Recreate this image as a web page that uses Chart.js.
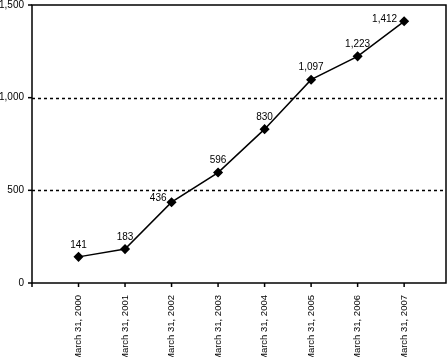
<!DOCTYPE html>
<html><head><meta charset="utf-8">
<script src="https://cdn.jsdelivr.net/npm/chart.js@4/dist/chart.umd.min.js"></script>
<style>html,body{margin:0;padding:0;background:#fff}#wrap{width:447px;height:357px}</style>
</head><body><div id="wrap"><canvas id="c" width="447" height="357"></canvas></div>
<script>
const categories = ["March 31, 2000","March 31, 2001","March 31, 2002","March 31, 2003","March 31, 2004","March 31, 2005","March 31, 2006","March 31, 2007"];
const values = [141,183,436,596,830,1097,1223,1412];
const yTicks = [0,500,1000,1500];

const FONT = "'Liberation Sans', Arial, sans-serif";
const fmt = v => v.toLocaleString('en-US');

const framePlugin = {
  id: 'frame',
  beforeDatasetsDraw(chart) {
    const {ctx, chartArea: a, scales: {x, y}} = chart;
    ctx.save();
    ctx.strokeStyle = '#000';
    ctx.lineWidth = 1.5;
    ctx.setLineDash([3,3]);
    yTicks.forEach(t => {
      if (t === 0 || t === 1500) return;
      const py = Math.round(y.getPixelForValue(t)) + 0.5;
      ctx.beginPath(); ctx.moveTo(a.left, py); ctx.lineTo(a.right, py); ctx.stroke();
    });
    ctx.setLineDash([]);
    ctx.lineWidth = 1.5;
    ctx.strokeRect(a.left, a.top, a.right - a.left, a.bottom - a.top);
    yTicks.forEach(t => {
      const py = y.getPixelForValue(t);
      ctx.beginPath(); ctx.moveTo(a.left - 4, py); ctx.lineTo(a.left, py); ctx.stroke();
    });
    ctx.beginPath(); ctx.moveTo(a.left, a.bottom); ctx.lineTo(a.left, a.bottom + 4); ctx.stroke();
    categories.forEach((c, i) => {
      const px = x.getPixelForValue(i);
      ctx.beginPath(); ctx.moveTo(px, a.bottom); ctx.lineTo(px, a.bottom + 4); ctx.stroke();
    });
    ctx.restore();
  },
  afterDatasetsDraw(chart) {
    const {ctx} = chart;
    const meta = chart.getDatasetMeta(0);
    ctx.save();
    ctx.font = '10px ' + FONT;
    ctx.fillStyle = '#000';
    ctx.textBaseline = 'middle';
    meta.data.forEach((pt, i) => {
      let dx = 0, dy = -12, align = 'center';
      if (i === 2) { dx = -5; dy = -4; align = 'right'; }
      if (i === 7) { dx = -7; dy = -2; align = 'right'; }
      ctx.textAlign = align;
      ctx.fillText(fmt(values[i]), pt.x + dx, pt.y + dy);
    });
    ctx.restore();
  }
};

new Chart(document.getElementById('c'), {
  type: 'line',
  data: {
    datasets: [{
      data: categories.map((c, i) => ({x: i, y: values[i]})),
      borderColor: '#000',
      backgroundColor: '#000',
      borderWidth: 1.5,
      pointStyle: 'rectRot',
      pointRadius: 4,
      pointHoverRadius: 4,
      pointBackgroundColor: '#000',
      pointBorderColor: '#000',
      tension: 0,
      clip: false
    }]
  },
  options: {
    responsive: false,
    animation: false,
    events: [],
    layout: {autoPadding: false, padding: {top: 5, right: 1, left: 0, bottom: 0}},
    plugins: {legend: {display: false}, tooltip: {enabled: false}},
    scales: {
      x: {
        type: 'linear',
        min: -1, max: 7.9,
        afterBuildTicks: s => { s.ticks = categories.map((c, i) => ({value: i})); },
        afterFit: s => { s.height = 74; s.paddingLeft = 0; s.paddingRight = 0; },
        grid: {display: false, drawTicks: false},
        border: {display: false},
        ticks: {
          autoSkip: false, maxRotation: 90, minRotation: 90, padding: 12,
          color: '#000', font: {family: FONT, size: 9.5},
          callback: v => categories[v] ?? ''
        }
      },
      y: {
        min: 0, max: 1500,
        afterBuildTicks: s => { s.ticks = yTicks.map(v => ({value: v})); },
        afterFit: s => { s.width = 32; s.paddingTop = 0; s.paddingBottom = 0; },
        grid: {display: false, drawTicks: false},
        border: {display: false},
        ticks: {
          padding: 8, color: '#000', font: {family: FONT, size: 10},
          callback: v => fmt(v)
        }
      }
    }
  },
  plugins: [framePlugin]
});
</script>
</body></html>
